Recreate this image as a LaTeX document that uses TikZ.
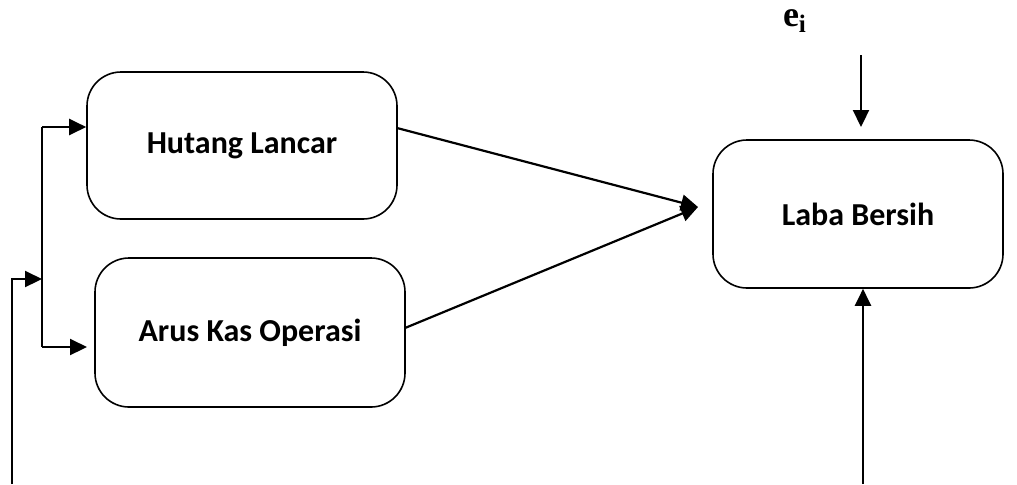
\documentclass[tikz,border=0pt]{standalone}
\usepackage{fontspec}
\setmainfont{Carlito}
\newfontfamily\tnr{Liberation Serif}
\usetikzlibrary{arrows.meta}
\begin{document}
\begin{tikzpicture}[x=0.5pt,y=-0.5pt,
  box/.style={draw,line width=0.8pt,rounded corners=17pt,minimum width=155pt,inner sep=0pt,font=\fontsize{16}{19}\selectfont\bfseries},
  conn/.style={line width=1.1pt},
  arr/.style={line width=1.1pt,-{Triangle[length=8.5pt,width=8pt]}}]
\useasboundingbox (0,0) rectangle (1017,484);
\node[box,minimum height=73.5pt] (h) at (242,145.5) {Hutang Lancar};
\node[box,minimum height=74.5pt] (a) at (250,332.5) {Arus Kas Operasi};
\node[box,minimum width=145pt,minimum height=74pt] (l) at (858,214) {Laba Bersih};
\node[font=\tnr\fontsize{18}{21}\selectfont\bfseries] (e) at (795,21) {e\textsubscript{i}};
\coordinate (s0) at (12,484);
\coordinate (j0) at (42,279);
\coordinate (j1) at (42,127);
\coordinate (j2) at (42,347);
\coordinate (a2) at (87,347);
\coordinate (hs) at (397,128);
\coordinate (as) at (405,328);
\coordinate (t) at (698,207);
\coordinate (et) at (861,55);
\coordinate (eb) at (861,127);
\coordinate (bs) at (863,484);
\draw[arr] (s0) |- (j0);
\draw[conn] (j1) -- (j2);
\draw[arr] (j1) -- (j1 -| h.west);
\draw[arr] (j2) -- (a2);
\draw[arr] (as) -- (t);
\draw[arr] (hs) -- (t);
\draw[arr] (et) -- (eb);
\draw[arr] (bs) -- (bs |- l.south);
\end{tikzpicture}
\end{document}
